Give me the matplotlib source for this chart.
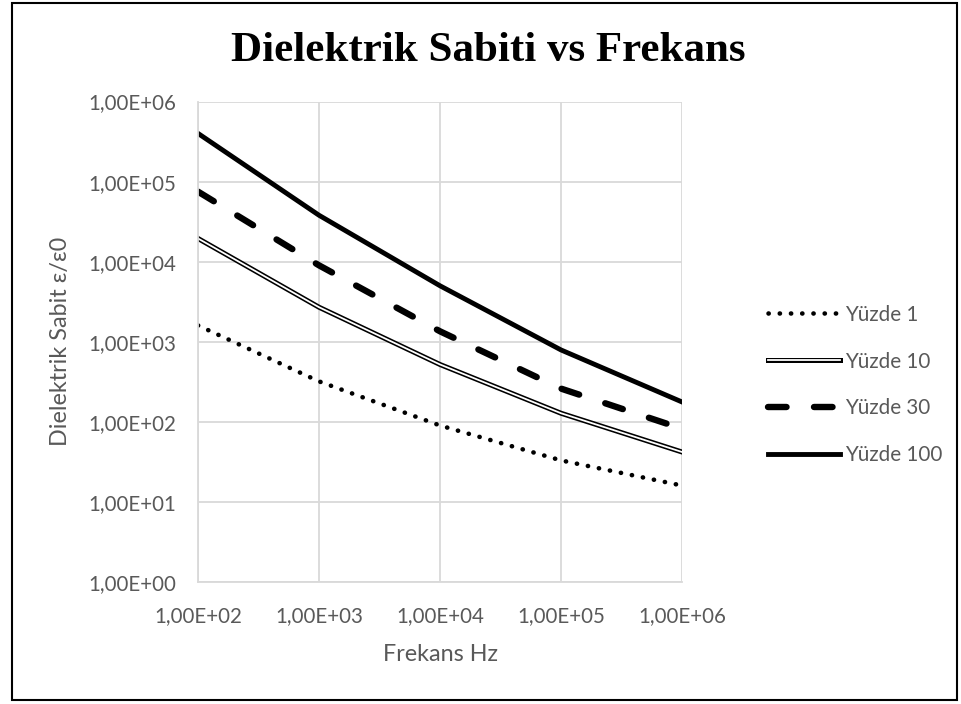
import numpy as np
import matplotlib.pyplot as plt
from matplotlib.patches import Rectangle
from matplotlib.ticker import FuncFormatter, FixedLocator, NullLocator

# Data
frekans = [1e2, 1e3, 1e4, 1e5, 1e6]
yuzde_1 = [1600, 320, 90, 33, 16]
yuzde_10 = [19500, 2700, 520, 128, 42]
yuzde_30 = [75000, 9000, 1350, 260, 82]
yuzde_100 = [400000, 38000, 5000, 790, 177]
series_labels = ["Yüzde 1", "Yüzde 10", "Yüzde 30", "Yüzde 100"]

TEXT_GRAY = "#595959"
GRID_GRAY = "#d9d9d9"
SANS = "Lato"


def excel_fmt(v, pos):
    return f"{v:.2E}".replace(".", ",")


fig = plt.figure(figsize=(9.62, 7.04), dpi=100)
ax = fig.add_axes([0.2058, 0.1733, 0.709 - 0.2058, 0.8558 - 0.1733])

# figure border
fig.patches.append(Rectangle((0.012, 0.006), 0.983, 0.99, transform=fig.transFigure,
                             fill=False, edgecolor="black", linewidth=1.5))

# Yüzde 1 - dotted
l1, = ax.plot(frekans, yuzde_1, color="black", linewidth=3.3,
              linestyle=(0, (0.05, 2.4)), dash_capstyle="round", solid_capstyle="round")
# Yüzde 10 - double line
l10a, = ax.plot(frekans, yuzde_10, color="black", linewidth=3.6)
l10b, = ax.plot(frekans, yuzde_10, color="white", linewidth=1.3)
# Yüzde 30 - dashed
l30, = ax.plot(frekans, yuzde_30, color="black", linewidth=4.6,
               linestyle=(0, (2.9, 4.3)), dash_capstyle="round")
# Yüzde 100 - solid
l100, = ax.plot(frekans, yuzde_100, color="black", linewidth=3.5)

ax.set_xscale("log")
ax.set_yscale("log")
ax.set_xlim(1e2, 1e6)
ax.set_ylim(1e0, 1e6)
ax.xaxis.set_major_locator(FixedLocator([1e2, 1e3, 1e4, 1e5, 1e6]))
ax.yaxis.set_major_locator(FixedLocator([1e0, 1e1, 1e2, 1e3, 1e4, 1e5, 1e6]))
ax.xaxis.set_minor_locator(NullLocator())
ax.yaxis.set_minor_locator(NullLocator())
ax.xaxis.set_major_formatter(FuncFormatter(excel_fmt))
ax.yaxis.set_major_formatter(FuncFormatter(excel_fmt))

ax.grid(True, color=GRID_GRAY, linewidth=1.3)
ax.set_axisbelow(True)
for side in ["top", "right"]:
    ax.spines[side].set_visible(False)
for side in ["left", "bottom"]:
    ax.spines[side].set_color(GRID_GRAY)
    ax.spines[side].set_linewidth(1.3)

ax.tick_params(length=0, labelsize=14.8, labelcolor=TEXT_GRAY)
ax.tick_params(axis="x", pad=17)
ax.tick_params(axis="y", pad=16)
for lbl in ax.get_xticklabels() + ax.get_yticklabels():
    lbl.set_fontfamily(SANS)

ax.set_xlabel("Frekans Hz", fontsize=16.8, color=TEXT_GRAY, family=SANS, labelpad=13)
ax.set_ylabel("Dielektrik Sabit ε/ε0", fontsize=16.8, color=TEXT_GRAY, family=SANS, labelpad=12)

fig.text(0.508, 0.927, "Dielektrik Sabiti vs Frekans", ha="center", va="center",
         fontsize=31, fontweight="bold", family="Liberation Serif")

leg = ax.legend([l1, (l10a, l10b), l30, l100], series_labels,
                loc="center left", bbox_to_anchor=(1.14, 0.41), frameon=False,
                handlelength=3.45, handletextpad=0.25, labelspacing=1.3,
                prop={"family": SANS, "size": 14.9})
for t in leg.get_texts():
    t.set_color(TEXT_GRAY)

fig.savefig("out.png", dpi=100)
